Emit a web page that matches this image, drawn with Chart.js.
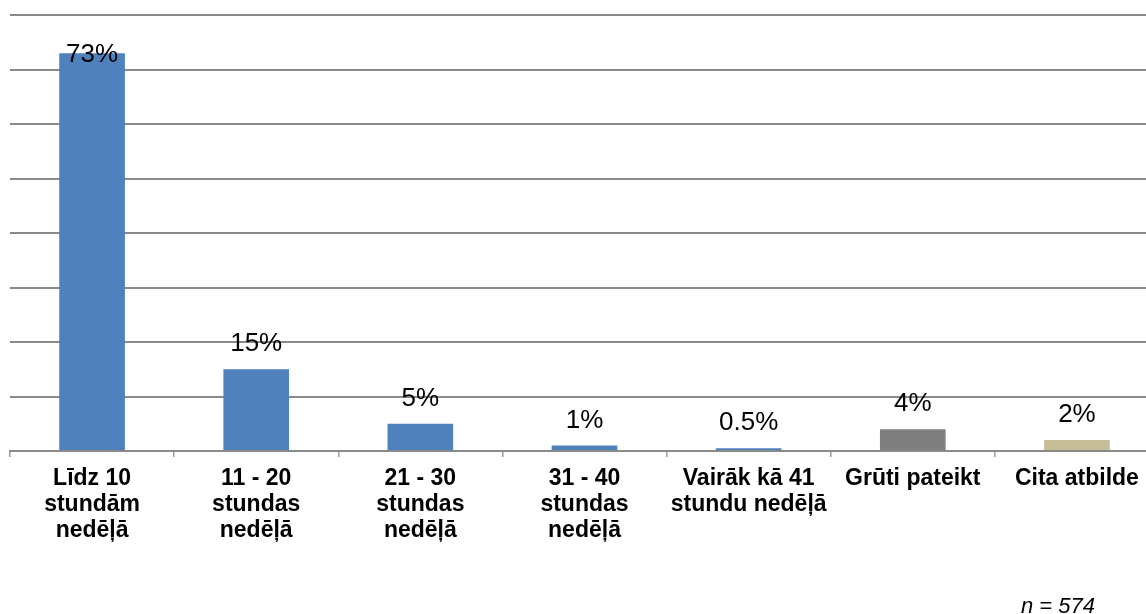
<!DOCTYPE html>
<html>
<head>
<meta charset="utf-8">
<script src="https://cdn.jsdelivr.net/npm/chart.js@4"></script>
<style>
    html, body { margin: 0; padding: 0; background: #fff; overflow: hidden; }
    #wrap { width: 1160px; height: 614px; }
</style>
</head>
<body>
<div id="wrap"><canvas id="hoursChart"></canvas></div>
<script>
// categories (multi-line labels as in the original)
const categories = [
    ['Līdz 10', 'stundām', 'nedēļā'],
    ['11 - 20', 'stundas', 'nedēļā'],
    ['21 - 30', 'stundas', 'nedēļā'],
    ['31 - 40', 'stundas', 'nedēļā'],
    ['Vairāk kā 41', 'stundu nedēļā'],
    'Grūti pateikt',
    'Cita atbilde'
];
const shares = [73, 15, 5, 1, 0.5, 4, 2];
const shareLabels = ['73%', '15%', '5%', '1%', '0.5%', '4%', '2%'];
const barColors = ['#4F81BD', '#4F81BD', '#4F81BD', '#4F81BD', '#4F81BD', '#7F7F7F', '#C4BD97'];
const sampleNote = 'n = 574';

const fontFamily = '"Liberation Sans", Arial, sans-serif';

// draws the percentage above each bar and the sample size note
const valueLabels = {
    id: 'valueLabels',
    afterDatasetsDraw(chart) {
        const ctx = chart.ctx;
        const area = chart.chartArea;
        const meta = chart.getDatasetMeta(0);
        ctx.save();
        ctx.fillStyle = '#000';
        ctx.font = '26px ' + fontFamily;
        ctx.textAlign = 'center';
        ctx.textBaseline = 'middle';
        meta.data.forEach((bar, i) => {
            let y = bar.y - 25;
            if (y < area.top + 40) y = area.top + 40; // keep inside plot like the original
            ctx.fillText(shareLabels[i], bar.x, y);
        });

        ctx.font = 'italic 22px ' + fontFamily;
        ctx.textBaseline = 'alphabetic';
        ctx.fillText(sampleNote, 1058, 613);
        ctx.restore();
    }
};

const ctx = document.getElementById('hoursChart').getContext('2d');
window.myChart = new Chart(ctx, {
    type: 'bar',
    data: {
        labels: categories,
        datasets: [
            {
                label: 'Share',
                data: shares,
                backgroundColor: barColors,
                borderWidth: 0,
                barPercentage: 0.4,
                categoryPercentage: 1
            }
        ]
    },
    options: {
        responsive: true,
        maintainAspectRatio: false,
        animation: false,
        layout: { padding: { left: 10, top: 15, right: 1, bottom: 0 } },
        plugins: {
            legend: { display: false },
            tooltip: { enabled: false }
        },
        scales: {
            x: {
                offset: true,
                afterFit(scale) { scale.height = 163; },
                border: { display: true, color: '#8a8a8a', width: 2 },
                grid: {
                    display: true,
                    offset: true,
                    drawOnChartArea: false,
                    drawTicks: true,
                    tickLength: 6,
                    color: '#9a9a9a',
                    lineWidth: 1.5
                },
                ticks: {
                    autoSkip: false,
                    maxRotation: 0,
                    padding: 8,
                    color: '#000',
                    font: { family: fontFamily, size: 23, weight: 'bold', lineHeight: 1.15 }
                }
            },
            y: {
                min: 0,
                max: 80,
                border: { display: false },
                grid: {
                    color: '#8a8a8a',
                    lineWidth: 2,
                    drawTicks: false
                },
                ticks: { display: false, stepSize: 10 }
            }
        }
    },
    plugins: [valueLabels]
});
</script>
</body>
</html>
